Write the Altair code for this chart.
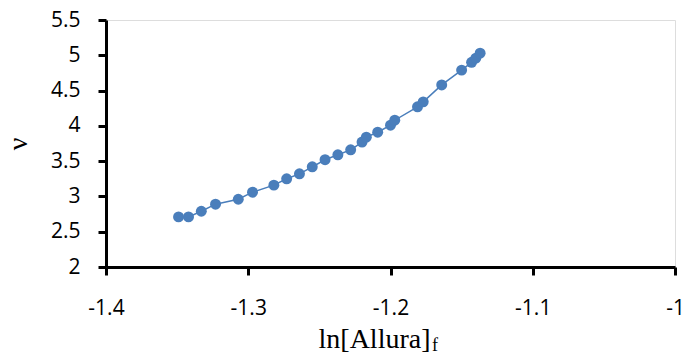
import altair as alt
import pandas as pd

ln_allura = [-1.349, -1.342, -1.333, -1.323, -1.307, -1.297, -1.282, -1.273,
             -1.264, -1.255, -1.246, -1.237, -1.228, -1.220, -1.217, -1.209,
             -1.200, -1.197, -1.181, -1.177, -1.164, -1.150, -1.143, -1.140,
             -1.137]
nu = [2.71, 2.71, 2.79, 2.89, 2.96, 3.06, 3.16, 3.25,
      3.32, 3.42, 3.52, 3.59, 3.66, 3.77, 3.84, 3.91,
      4.01, 4.08, 4.27, 4.34, 4.58, 4.79, 4.90, 4.96,
      5.03]
x_ticks = [-1.4, -1.3, -1.2, -1.1, -1.0]
y_ticks = [2, 2.5, 3, 3.5, 4, 4.5, 5, 5.5]

df = pd.DataFrame({"x": ln_allura, "y": nu, "order": list(range(len(nu)))})

COLOR = "#4A7EBB"
W, H = 569, 247

common = dict(labelFont="Open Sans", labelFontSize=21, labelColor="#000000",
              labelOverlap=False, labelFlush=False,
              tickSize=8, tickWidth=3, tickColor="#000000",
              domainColor="#000000", domainWidth=3, grid=False,
              titleFont="Liberation Serif", titleFontSize=28,
              titleFontWeight="normal", titleColor="#000000")

xenc = alt.X("x:Q", scale=alt.Scale(domain=[-1.4, -1.0], nice=False, zero=False),
             axis=alt.Axis(values=x_ticks, tickCount=len(x_ticks),
                           labelExpr="'' + datum.value",
                           title="ln[Allura]",
                           titleAlign="right", titleAnchor="start",
                           titleX=324, titleY=80, titleBaseline="alphabetic",
                           labelPadding=22, **common))
yenc = alt.Y("y:Q", scale=alt.Scale(domain=[2, 5.5], nice=False, zero=False),
             axis=alt.Axis(values=y_ticks, tickCount=len(y_ticks),
                           labelExpr="'' + datum.value",
                           title="ν", titleAngle=270, titleX=-80, titleY=H / 2,
                           titleAlign="center", titleBaseline="alphabetic",
                           labelPadding=18, **common))

line = alt.Chart(df).mark_line(color=COLOR, strokeWidth=1.5).encode(
    x=xenc, y=yenc, order="order:Q")
pts = alt.Chart(df).mark_circle(color=COLOR, size=120, opacity=1).encode(
    x="x:Q", y="y:Q")
sub = alt.Chart(pd.DataFrame({"t": ["f"]})).mark_text(
    font="Liberation Serif", fontSize=18, align="left", baseline="alphabetic",
    color="#000000").encode(x=alt.value(326), y=alt.value(H + 84), text="t:N")

chart = alt.layer(line, pts, sub).properties(
    width=W, height=H,
    autosize=alt.AutoSizeParams(type="none"),
    padding={"left": 106, "top": 20, "right": 9, "bottom": 87},
).configure_view(stroke=None).configure(background="white")

chart.save("out.html", embed_options={"renderer": "svg", "actions": False})
